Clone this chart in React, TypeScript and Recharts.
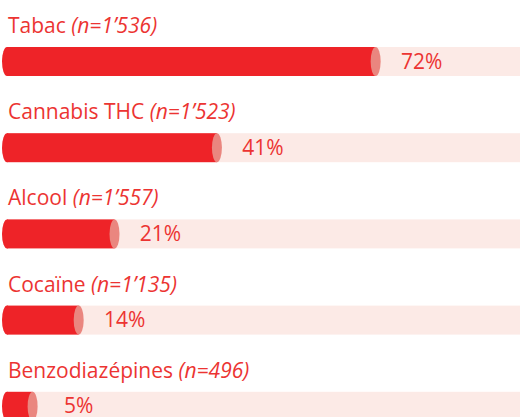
import { Bar, BarChart, LabelList, XAxis, YAxis } from "recharts";

const categories = ["Tabac", "Cannabis THC", "Alcool", "Cocaïne", "Benzodiazépines"];
const sampleSizes = ["1’536", "1’523", "1’557", "1’135", "496"];
const percentages = [72, 41, 21, 14, 5];

const RED = "#EE2328";
const CAP = "#EA867F";
const TRACK = "#FCEAE6";
const TEXT = "#EC3432";
const FONT = "'Open Sans', sans-serif";

const data = categories.map((name, i) => ({
  name,
  n: sampleSizes[i],
  value: percentages[i],
}));

const Cylinder = (props: any) => {
  const { x, y, width, height } = props;
  const cy = y + height / 2;
  return (
    <g>
      <ellipse cx={x} cy={cy} rx={5} ry={height / 2} fill={RED} />
      <rect x={x} y={y} width={width} height={height} fill={RED} />
      <ellipse cx={x + width} cy={cy} rx={5} ry={height / 2} fill={CAP} />
    </g>
  );
};

const Track = (props: any) => {
  const { x, y, width, height } = props;
  return <rect key={`bg-${props.index}`} x={x} y={y} width={width + 1} height={height} fill={TRACK} />;
};

const NameLabel = (props: any) => {
  const { y, index } = props;
  return (
    <text x={8} y={y - 14} fill={TEXT} fontSize={21} fontFamily={FONT}>
      {categories[index]}{" "}
      <tspan fontStyle="italic">(n={sampleSizes[index]})</tspan>
    </text>
  );
};

const ValueLabel = (props: any) => {
  const { x, y, width, height, value } = props;
  return (
    <text
      x={x + width + 46}
      y={y + height / 2 + 7}
      fill={TEXT}
      fontSize={21}
      fontFamily={FONT}
      textAnchor="middle"
    >
      {value}%
    </text>
  );
};

export default function App() {
  return (
    <div
      style={{
        position: "absolute",
        left: 0,
        top: 0,
        width: 521,
        height: 417,
        overflow: "hidden",
        background: "#fff",
      }}
    >
      <BarChart
        width={521}
        height={449}
        data={data}
        layout="vertical"
        margin={{ top: 18, right: 2, left: 7, bottom: 0 }}
      >
        <XAxis type="number" domain={[0, 100]} hide />
        <YAxis type="category" dataKey="name" hide />
        <Bar
          dataKey="value"
          barSize={29}
          shape={Cylinder}
          background={Track}
          isAnimationActive={false}
        >
          <LabelList dataKey="value" content={NameLabel} />
          <LabelList dataKey="value" content={ValueLabel} />
        </Bar>
      </BarChart>
    </div>
  );
}
